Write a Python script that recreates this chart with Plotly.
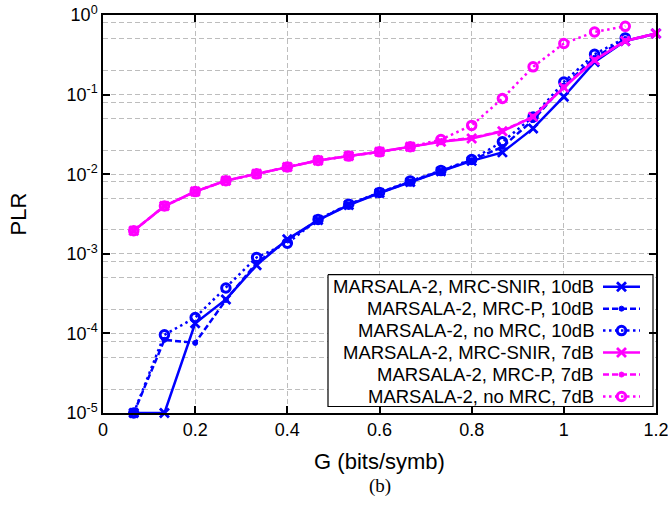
import plotly.graph_objects as go

# ---------------- data ----------------
G = [0.0667, 0.1333, 0.2, 0.2667, 0.3333, 0.4, 0.4667, 0.5333, 0.6, 0.6667,
     0.7333, 0.8, 0.8667, 0.9333, 1.0, 1.0667, 1.1333, 1.2]

snir_10 = [1e-5, 1e-5, 1.34e-4, 2.67e-4, 7.2e-4, 1.52e-3, 2.65e-3, 4.1e-3, 5.8e-3, 8.0e-3,
           1.09e-2, 1.47e-2, 1.88e-2, 3.76e-2, 9.4e-2, 2.57e-1, 4.72e-1, 5.84e-1]
mrcp_10 = [1e-5, 8.3e-5, 7.6e-5, 2.63e-4, 7.7e-4, 1.48e-3, 2.65e-3, 4.15e-3, 5.85e-3, 8.1e-3,
           1.1e-2, 1.5e-2, 2.2e-2, 4.8e-2, 1.3e-1, 2.9e-1, 5.0e-1]
nomrc_10 = [1e-5, 9.6e-5, 1.58e-4, 3.72e-4, 9.0e-4, 1.36e-3, 2.7e-3, 4.2e-3, 5.9e-3, 8.2e-3,
            1.11e-2, 1.53e-2, 2.55e-2, 5.25e-2, 1.44e-1, 3.21e-1, 5.15e-1]

snir_7 = [1.95e-3, 3.98e-3, 6.05e-3, 8.3e-3, 1.01e-2, 1.23e-2, 1.49e-2, 1.69e-2, 1.91e-2, 2.21e-2,
          2.55e-2, 2.81e-2, 3.47e-2, 5.25e-2, 1.23e-1, 2.70e-1, 4.72e-1, 5.84e-1]
mrcp_7 = [1.95e-3, 3.98e-3, 6.05e-3, 8.3e-3, 1.01e-2, 1.23e-2, 1.49e-2, 1.69e-2, 1.91e-2, 2.21e-2,
          2.58e-2, 2.85e-2, 3.5e-2, 5.3e-2, 1.24e-1, 2.72e-1, 4.75e-1, 5.84e-1]
nomrc_7 = [1.95e-3, 3.98e-3, 6.05e-3, 8.3e-3, 1.01e-2, 1.23e-2, 1.49e-2, 1.69e-2, 1.91e-2, 2.21e-2,
           2.72e-2, 4.1e-2, 8.93e-2, 2.23e-1, 4.38e-1, 6.12e-1, 7.21e-1]

series_names = ["MARSALA-2, MRC-SNIR, 10dB", "MARSALA-2, MRC-P, 10dB", "MARSALA-2, no MRC, 10dB",
                "MARSALA-2, MRC-SNIR, 7dB", "MARSALA-2, MRC-P, 7dB", "MARSALA-2, no MRC, 7dB"]
series_values = [snir_10, mrcp_10, nomrc_10, snir_7, mrcp_7, nomrc_7]

x_ticks = [0, 0.2, 0.4, 0.6, 0.8, 1, 1.2]
x_tick_labels = ["0", "0.2", "0.4", "0.6", "0.8", "1", "1.2"]
y_ticks = [1e-5, 1e-4, 1e-3, 1e-2, 1e-1, 1]
y_tick_labels = ["10<sup>-5</sup>", "10<sup>-4</sup>", "10<sup>-3</sup>",
                 "10<sup>-2</sup>", "10<sup>-1</sup>", "10<sup>0</sup>"]
y_minor = [m * 10 ** e for e in range(-5, 0) for m in (2, 5, 8)]

# ---------------- styles ----------------
BLUE = "rgb(0,0,255)"
MAG = "rgb(255,0,255)"
colors = [BLUE, BLUE, BLUE, MAG, MAG, MAG]
dashes = ["solid", "6px,3px", "2.5px,3.5px"] * 2
symbols = ["x-thin-open", "circle", "circle-open"] * 2
msizes = [9, 5, 8.5] * 2
mlw = [2.8, 1, 3] * 2

FONT = "Liberation Sans, Arial, Helvetica, sans-serif"

# plot area in page pixels
L, R, T, B = 103, 656, 15, 413.5
W, H = 668, 505
XMAX, LOGMIN = 1.2, -5


def dx(xp):  # page px -> data x
    return (xp - L) / (R - L) * XMAX


def dy(yp):  # page px -> data y (log axis)
    return 10 ** (LOGMIN * (yp - T) / (B - T))


def px(xp):
    return (xp - L) / (R - L)


def py(yp):
    return (B - yp) / (B - T)


fig = go.Figure()

# legend box (drawn first so it sits above the grid but below everything else)
bx0, bx1, by0, by1 = 328, 653, 275, 407
fig.add_trace(go.Scatter(
    x=[dx(bx0), dx(bx1), dx(bx1), dx(bx0), dx(bx0)],
    y=[dy(by0), dy(by0), dy(by1), dy(by1), dy(by0)],
    mode="lines", fill="toself", fillcolor="white",
    line=dict(color="black", width=1.2), showlegend=False, hoverinfo="skip", cliponaxis=False))

for name, vals, c, d, s, ms, lw in zip(series_names, series_values, colors, dashes, symbols, msizes, mlw):
    fig.add_trace(go.Scatter(
        x=G[:len(vals)], y=vals, name=name, mode="lines+markers",
        line=dict(color=c, width=2.5, dash=d),
        marker=dict(symbol=s, size=ms, color=c, line=dict(color=c, width=lw)),
        cliponaxis=False, showlegend=False,
    ))

# ---------- gnuplot-style legend (text right, sample on the right) ----------
leg_text_x = 596
leg_s0, leg_s1 = 603, 640
row_y0, row_dy = 287, 22
for i, (name, c, d, s, ms, lw) in enumerate(zip(series_names, colors, dashes, symbols, msizes, mlw)):
    yp = row_y0 + i * row_dy
    fig.add_trace(go.Scatter(
        x=[dx(leg_s0), dx(leg_s1)], y=[dy(yp), dy(yp)], mode="lines",
        line=dict(color=c, width=2.5, dash=d), showlegend=False, hoverinfo="skip", cliponaxis=False))
    fig.add_trace(go.Scatter(
        x=[dx((leg_s0 + leg_s1) / 2)], y=[dy(yp)], mode="markers",
        marker=dict(symbol=s, size=ms, color=c, line=dict(color=c, width=lw)),
        showlegend=False, hoverinfo="skip", cliponaxis=False))
    fig.add_annotation(x=px(leg_text_x), y=py(yp), xref="paper", yref="paper", text=name,
                       showarrow=False, xanchor="right", yanchor="middle",
                       font=dict(family=FONT, size=18.5, color="black"))

fig.update_layout(
    width=W, height=H,
    margin=dict(l=L, r=W - R, t=T, b=H - B, autoexpand=False),
    paper_bgcolor="white", plot_bgcolor="white",
    font=dict(family=FONT, size=18, color="black"),
    xaxis=dict(
        range=[0, XMAX], tickvals=x_ticks, ticktext=x_tick_labels,
        ticks="inside", ticklen=7, tickwidth=1.5, tickcolor="black",
        showline=True, linecolor="black", linewidth=1.5, mirror="ticks",
        showgrid=True, gridcolor="#bdbdbd", gridwidth=1, griddash="5px,3px",
        zeroline=False, tickfont=dict(size=18), ticklabelstandoff=0,
        ticklabeloverflow="allow",
        title=dict(text="G (bits/symb)", font=dict(size=22), standoff=14),
    ),
    yaxis=dict(
        type="log", range=[LOGMIN, 0], tickvals=y_ticks, ticktext=y_tick_labels,
        ticks="inside", ticklen=7, tickwidth=1.5, tickcolor="black",
        showline=True, linecolor="black", linewidth=1.5, mirror="ticks",
        showgrid=True, gridcolor="#bdbdbd", gridwidth=1, griddash="5px,3px",
        minor=dict(tickvals=y_minor, showgrid=True, gridcolor="#bdbdbd",
                   gridwidth=1, griddash="5px,3px", ticks=""),
        zeroline=False, tickfont=dict(size=18), ticklabeloverflow="allow",
        title=dict(text="PLR", font=dict(size=22), standoff=34),
    ),
)

fig.add_annotation(x=0.5, y=0, xref="paper", yref="paper", yshift=-72.5,
                   text="(b)", showarrow=False, xanchor="center", yanchor="middle",
                   font=dict(family="Liberation Serif, Times New Roman, serif", size=19, color="black"))

fig.write_html("out.html", config={"displayModeBar": False},
               post_script="document.body.style.margin='0';")
